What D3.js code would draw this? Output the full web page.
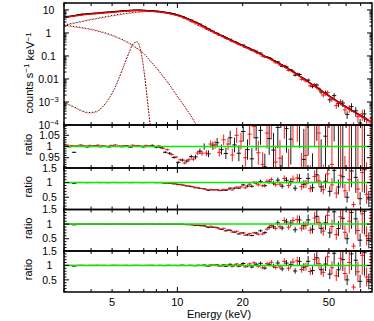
<!DOCTYPE html>
<html>
<head>
<meta charset="utf-8">
<script src="https://cdn.jsdelivr.net/npm/d3@7"></script>
<style>
  body { margin: 0; background: #fff; }
  svg { font-family: "Liberation Sans", Arial, sans-serif; }
</style>
</head>
<body>
<svg id="chart" width="374" height="321"></svg>
<script>
// bin centres (keV) for the two detectors
var energyA = [3.05, 3.19, 3.34, 3.50, 3.67, 3.84, 4.02, 4.21, 4.41, 4.62, 4.83, 5.06, 5.30, 5.55, 5.81, 6.08, 6.37, 6.67, 6.98, 7.31, 7.66, 8.02, 8.39, 8.79, 9.20, 9.64, 10.09, 10.57, 11.06, 11.58, 12.13, 12.70, 13.30, 13.92, 14.58, 15.26, 15.98, 16.74, 17.52, 18.35, 19.21, 20.12, 21.06, 22.06, 23.09, 24.18, 25.32, 26.51, 27.76, 29.06, 30.43, 31.86, 33.36, 34.93, 36.58, 38.30, 40.10, 41.99, 43.96, 46.03, 48.20, 50.47, 52.85, 55.33, 57.94, 60.67, 63.52, 66.51, 69.64, 72.92, 76.35]
var energyB = [3.12, 3.26, 3.42, 3.58, 3.75, 3.93, 4.11, 4.31, 4.51, 4.72, 4.94, 5.18, 5.42, 5.68, 5.94, 6.22, 6.52, 6.82, 7.14, 7.48, 7.84, 8.20, 8.58, 8.99, 9.41, 9.86, 10.32, 10.81, 11.31, 11.85, 12.41, 12.99, 13.61, 14.24, 14.92, 15.61, 16.35, 17.12, 17.92, 18.77, 19.65, 20.58, 21.54, 22.57, 23.62, 24.74, 25.90, 27.12, 28.40, 29.73, 31.13, 32.59, 34.13, 35.73, 37.42, 39.18, 41.02, 42.96, 44.97, 47.09, 49.31, 51.63, 54.07, 56.60, 59.27, 62.07, 64.98, 68.04, 71.24, 74.60, 78.11]

// folded model, counts s-1 keV-1
var modelA = [4.9, 5.3, 5.7, 6.1, 6.5, 6.8, 7.0, 7.2, 7.5, 7.8, 8.1, 8.4, 8.7, 9.0, 9.3, 9.6, 9.8, 9.8, 9.6, 9.4, 9.1, 8.8, 8.4, 7.9, 7.3, 6.7, 5.9, 5.1, 4.3, 3.6, 2.95, 2.4, 1.9, 1.5, 1.18, 0.95, 0.78, 0.63, 0.51, 0.42, 0.34, 0.28, 0.235, 0.19, 0.155, 0.125, 0.10, 0.081, 0.064, 0.051, 0.040, 0.031, 0.024, 0.018, 0.0137, 0.0104, 0.0078, 0.0058, 0.0043, 0.0032, 0.0024, 0.00178, 0.00133, 0.00100, 0.00075, 0.00058, 0.00045, 0.00035, 0.00027, 0.00021, 0.00016]
var modelB = [4.84, 5.22, 5.60, 5.98, 6.31, 6.55, 6.74, 6.98, 7.26, 7.55, 7.83, 8.12, 8.40, 8.69, 8.97, 9.21, 9.31, 9.21, 9.02, 8.79, 8.50, 8.17, 7.74, 7.21, 6.64, 5.97, 5.21, 4.45, 3.74, 3.10, 2.53, 2.03, 1.60, 1.26, 1.00, 0.818, 0.666, 0.538, 0.440, 0.359, 0.293, 0.244, 0.201, 0.163, 0.132, 0.106, 0.0855, 0.0684, 0.0543, 0.0429, 0.0334, 0.0259, 0.0197, 0.0149, 0.0113, 0.00855, 0.00639, 0.00474, 0.00352, 0.00263, 0.00196, 0.00146, 0.00109, 0.000823, 0.000627, 0.000485, 0.000377, 0.000292, 0.000226, 0.000174, 0.000133]

// fractional 1-sigma errors per bin
var relErr = [0.003, 0.003, 0.003, 0.003, 0.003, 0.003, 0.003, 0.003, 0.003, 0.003, 0.003, 0.003, 0.003, 0.003, 0.003, 0.003, 0.003, 0.003, 0.003, 0.003, 0.004, 0.004, 0.004, 0.005, 0.005, 0.006, 0.006, 0.007, 0.008, 0.009, 0.010, 0.012, 0.014, 0.016, 0.018, 0.020, 0.023, 0.026, 0.030, 0.033, 0.037, 0.042, 0.046, 0.050, 0.055, 0.060, 0.065, 0.071, 0.078, 0.085, 0.093, 0.10, 0.11, 0.12, 0.13, 0.145, 0.16, 0.175, 0.19, 0.21, 0.23, 0.25, 0.28, 0.30, 0.33, 0.36, 0.40, 0.45, 0.50, 0.55, 0.62]

// data / best-fit model (bottom panel)
var ratioA = [1.002, 0.999, 0.974, 1.001, 1.002, 0.998, 1.001, 1.003, 0.999, 1.001, 0.998, 1.002, 1.000, 0.999, 1.003, 0.997, 1.001, 1.002, 0.998, 1.001, 1.005, 0.997, 1.002, 0.994, 1.004, 1.001, 0.995, 1.010, 0.998, 1.005, 0.990, 1.004, 1.015, 0.976, 1.007, 1.018, 0.986, 0.969, 1.039, 1.007, 0.970, 1.067, 0.986, 0.945, 1.039, 1.072, 0.909, 1.036, 0.984, 1.085, 0.879, 1.080, 1.033, 0.808, 1.143, 0.942, 1.144, 0.825, 1.266, 0.853, 1.046, 0.70, 1.42, 0.85, 1.20, 0.50, 1.40, 1.18, 0.45, 1.44, 0.44]
var ratioB = [1.006, 1.004, 1.003, 1.007, 1.002, 1.005, 1.003, 1.006, 1.004, 1.001, 1.005, 1.007, 1.003, 1.004, 1.002, 1.006, 1.004, 1.001, 1.005, 1.003, 1.000, 1.004, 0.999, 1.006, 0.998, 1.003, 1.007, 0.996, 1.004, 0.993, 1.008, 0.995, 0.985, 1.020, 1.012, 0.975, 1.030, 1.011, 0.962, 1.050, 1.024, 0.950, 1.055, 1.090, 0.972, 0.920, 1.060, 1.110, 0.930, 0.948, 1.140, 0.900, 1.120, 1.160, 0.860, 0.960, 0.790, 1.210, 1.060, 0.760, 1.300, 0.920, 0.640, 1.250, 0.720, 1.100, 0.250, 0.780, 1.350, 0.600, 1.200]

// best-fit model / alternative model, per bin
var dipNoCyc = [1, 1, 1, 1, 1, 1, 1, 1, 1, 1, 1, 1, 1, 1, 1, 1, 1, 1, 1, 1, 1, 0.999, 0.993, 0.980, 0.966, 0.950, 0.934, 0.930, 0.937, 0.950, 0.963, 0.975, 0.985, 0.991, 0.996, 0.999, 1, 1, 1, 1, 1, 1, 1, 1, 1, 1, 1, 1, 1, 1, 1, 1, 1, 1, 1, 1, 1, 1, 1, 1, 1, 1, 1, 1, 1, 1, 1, 1, 1, 1, 1]
var dipCyc1 = [1, 1, 1, 1, 1, 1, 1, 1, 1, 1, 1, 1, 1, 1, 1, 1, 1, 1, 1, 1, 1, 1, 0.995, 0.985, 0.97, 0.955, 0.935, 0.91, 0.885, 0.86, 0.83, 0.80, 0.775, 0.755, 0.745, 0.742, 0.748, 0.76, 0.78, 0.805, 0.835, 0.865, 0.895, 0.925, 0.95, 0.97, 0.985, 0.995, 1, 1, 1, 1, 1, 1, 1, 1, 1, 1, 1, 1, 1, 1, 1, 1, 1, 1, 1, 1, 1, 1, 1]
var dipCyc2 = [1, 1, 1, 1, 1, 1, 1, 1, 1, 1, 1, 1, 1, 1, 1, 1, 1, 1, 1, 1, 1, 1, 1, 1, 1, 0.998, 0.995, 0.99, 0.982, 0.972, 0.96, 0.945, 0.93, 0.91, 0.885, 0.86, 0.83, 0.795, 0.76, 0.72, 0.685, 0.655, 0.64, 0.645, 0.67, 0.72, 0.78, 0.86, 0.92, 0.96, 0.985, 0.995, 1, 1, 1, 1, 1, 1, 1, 1, 1, 1, 1, 1, 1, 1, 1, 1, 1, 1, 1]

// model components (FPMA)
var softEnergy = [3.0, 3.5, 4.0, 4.5, 5.0, 5.5, 6.0, 6.5, 7.0, 7.5, 8.0, 8.5, 9.0, 9.5, 10, 10.5, 11, 11.5, 12, 12.5]
var softComp = [2.2, 1.8, 1.45, 1.1, 0.8, 0.55, 0.36, 0.22, 0.13, 0.062, 0.031, 0.015, 0.0075, 0.0037, 0.0018, 0.00095, 0.0005, 0.00027, 0.00014, 0.00007]
var contEnergy = [3.0, 3.5, 4.0, 4.5, 5.0, 5.5, 6.0, 6.5, 7.0, 7.5, 8.0, 8.5, 9.0, 10, 11, 12, 14, 17, 20, 25, 30, 40, 50, 60, 70, 79]
var contComp = [2.2, 3.0, 3.9, 4.8, 5.7, 6.6, 7.4, 8.1, 8.6, 8.8, 8.7, 8.3, 7.8, 6.0, 4.0, 2.6, 1.3, 0.55, 0.27, 0.1, 0.047, 0.0075, 0.0018, 0.00058, 0.00024, 0.00011]
var lineEnergy = [3.0, 3.3, 3.6, 3.9, 4.2, 4.5, 4.8, 5.1, 5.4, 5.7, 6.0, 6.2, 6.35, 6.45, 6.6, 6.75, 6.9, 7.05, 7.2, 7.35, 7.5]
var lineComp = [0.00095, 0.00065, 0.00043, 0.00035, 0.00038, 0.0006, 0.0013, 0.0035, 0.012, 0.045, 0.15, 0.3, 0.39, 0.42, 0.37, 0.2, 0.066, 0.016, 0.003, 0.0005, 0.0001]
var crossNorm = 0.95

var countTicks = [10, 1, 0.1, 0.01, 0.001, 0.0001]
var energyTicks = [5, 10, 20, 50]

;(function () {
  var left = 64; var right = 372
  var svg = d3.select('#chart')
  var green = '#00ee00'

  var x = d3.scaleLog().domain([3, 79]).range([left, right])

  var panels = [
    { top: 3, bottom: 125 },
    { top: 125, bottom: 168, domain: [0.904, 1.096], dip: dipNoCyc, major: [0.95, 1, 1.05], minor: d3.range(91, 110).map(d => d / 100) },
    { top: 168, bottom: 209.5, domain: [0.08, 1.5], dip: dipCyc1, major: [0.5, 1, 1.5], minor: d3.range(1, 15).map(d => d / 10) },
    { top: 209.5, bottom: 251, domain: [0.08, 1.5], dip: dipCyc2, major: [0.5, 1, 1.5], minor: d3.range(1, 15).map(d => d / 10) },
    { top: 251, bottom: 292, domain: [0.08, 1.5], dip: null, major: [0.5, 1, 1.5], minor: d3.range(1, 15).map(d => d / 10) }
  ]

  var defs = svg.append('defs')
  panels.forEach((p, k) => {
    defs.append('clipPath').attr('id', 'clip' + k)
      .append('rect')
      .attr('x', left).attr('y', p.top)
      .attr('width', right - left).attr('height', p.bottom - p.top)
  })

  function edges (en) {
    return en.map((e, i) => {
      var lo = i === 0 ? e / Math.sqrt(en[1] / e) : Math.sqrt(en[i - 1] * e)
      var hi = i === en.length - 1 ? e * Math.sqrt(e / en[i - 1]) : Math.sqrt(en[i + 1] * e)
      return [lo, hi]
    })
  }
  var edgesA = edges(energyA)
  var edgesB = edges(energyB)

  function drawPoints (g, pts, color) {
    var s = g.append('g').attr('stroke', color).attr('stroke-width', 0.9)
    s.selectAll('.h').data(pts).enter().append('line')
      .attr('x1', d => x(d.lo)).attr('x2', d => x(d.hi))
      .attr('y1', d => d.y).attr('y2', d => d.y)
    s.selectAll('.v').data(pts).enter().append('line')
      .attr('x1', d => x(d.e)).attr('x2', d => x(d.e))
      .attr('y1', d => d.y1).attr('y2', d => d.y2)
  }

  // ---- top panel: counts spectrum
  var p0 = panels[0]
  var y0 = d3.scaleLog().domain([1e-4, 20]).range([p0.bottom, p0.top])
  var g0 = svg.append('g').attr('clip-path', 'url(#clip0)')

  var line = d3.line().curve(d3.curveMonotoneX)
    .x(d => x(d[0])).y(d => y0(Math.max(d[1], 1e-6)))

  function drawComps (color, norm, offset) {
    var comps = [[softEnergy, softComp], [contEnergy, contComp], [lineEnergy, lineComp]]
    comps.forEach(c => {
      g0.append('path')
        .datum(c[0].map((e, i) => [e, c[1][i] * norm]))
        .attr('d', line)
        .attr('fill', 'none')
        .attr('stroke', color)
        .attr('stroke-width', 1)
        .attr('stroke-dasharray', '1,2')
        .attr('stroke-dashoffset', offset)
    })
  }
  drawComps('#000', 1, 0)
  drawComps('#ff0000', crossNorm, 1.5)

  function countPts (en, ed, model, ratio) {
    return en.map((e, i) => {
      var v = model[i] * ratio[i]
      var err = v * relErr[i]
      return { e: e, lo: ed[i][0], hi: ed[i][1], y: y0(v), y1: y0(Math.max(v - err, 1e-6)), y2: y0(v + err) }
    })
  }
  drawPoints(g0, countPts(energyA, edgesA, modelA, ratioA), '#000')
  drawPoints(g0, countPts(energyB, edgesB, modelB, ratioB), '#ff0000')

  g0.append('path').datum(energyA.map((e, i) => [e, modelA[i]]))
    .attr('d', line).attr('fill', 'none').attr('stroke', '#000').attr('stroke-width', 1.3)
  g0.append('path').datum(energyB.map((e, i) => [e, modelB[i]]))
    .attr('d', line).attr('fill', 'none').attr('stroke', '#ff0000').attr('stroke-width', 1.3)

  // ---- ratio panels
  panels.slice(1).forEach((p, k) => {
    var y = d3.scaleLinear().domain(p.domain).range([p.bottom, p.top])
    p.y = y
    var g = svg.append('g').attr('clip-path', 'url(#clip' + (k + 1) + ')')
    function ratioPts (en, ed, ratio) {
      return en.map((e, i) => {
        var r = ratio[i] * (p.dip ? p.dip[i] : 1)
        var err = r * relErr[i]
        return { e: e, lo: ed[i][0], hi: ed[i][1], y: y(r), y1: y(r - err), y2: y(r + err) }
      })
    }
    drawPoints(g, ratioPts(energyA, edgesA, ratioA), '#000')
    drawPoints(g, ratioPts(energyB, edgesB, ratioB), '#ff0000')
    g.append('line')
      .attr('x1', left).attr('x2', right)
      .attr('y1', y(1)).attr('y2', y(1))
      .attr('stroke', green).attr('stroke-width', 1.5)
  })

  // ---- axes, ticks, frames
  var axes = svg.append('g').attr('stroke', '#000')
  var xMinor = [3, 4, 5, 6, 7, 8, 9, 10, 20, 30, 40, 50, 60, 70]

  panels.forEach((p, k) => {
    xMinor.forEach(e => {
      var len = e === 10 ? 5 : 3
      axes.append('line').attr('x1', x(e)).attr('x2', x(e))
        .attr('y1', p.bottom).attr('y2', p.bottom - len).attr('stroke-width', 1)
      axes.append('line').attr('x1', x(e)).attr('x2', x(e))
        .attr('y1', p.top).attr('y2', p.top + len).attr('stroke-width', 1)
    })

    var yTicks = []
    if (k === 0) {
      countTicks.forEach(v => yTicks.push({ y: y0(v), len: 5 }))
      countTicks.forEach(v => {
        d3.range(2, 10).forEach(m => {
          if (v * m <= 20) yTicks.push({ y: y0(v * m), len: 2.5 })
        })
      })
    } else {
      p.minor.forEach(v => yTicks.push({ y: p.y(v), len: p.major.some(m => Math.abs(m - v) < 1e-6) ? 5 : 2.5 }))
    }
    yTicks.forEach(t => {
      axes.append('line').attr('x1', left).attr('x2', left + t.len)
        .attr('y1', t.y).attr('y2', t.y).attr('stroke-width', 1)
      axes.append('line').attr('x1', right).attr('x2', right - t.len)
        .attr('y1', t.y).attr('y2', t.y).attr('stroke-width', 1)
    })

    axes.append('rect')
      .attr('x', left).attr('y', p.top)
      .attr('width', right - left).attr('height', p.bottom - p.top)
      .attr('fill', 'none').attr('stroke-width', 1.5)
  })

  // ---- labels
  var labels = svg.append('g').attr('font-size', 11).attr('fill', '#000')

  countTicks.forEach(v => {
    var t = labels.append('text')
      .attr('x', 48.5).attr('y', y0(v)).attr('dy', '0.35em')
      .attr('text-anchor', 'middle').attr('font-size', 10.5)
    if (v >= 0.01) {
      t.text(String(v))
    } else {
      t.text('10')
      t.append('tspan').attr('dy', '-0.45em').attr('font-size', 7.5)
        .text('\u2212' + Math.round(-Math.log10(v)))
    }
  })

  panels.slice(1).forEach(p => {
    p.major.forEach(v => {
      labels.append('text')
        .attr('x', 49.5).attr('y', p.y(v)).attr('dy', '0.35em')
        .attr('text-anchor', 'middle').attr('font-size', 10.5)
        .text(String(v))
    })
    labels.append('text')
      .attr('transform', 'translate(32,' + ((p.top + p.bottom) / 2 - 2) + ') rotate(-90)')
      .attr('text-anchor', 'middle')
      .text('ratio')
  })

  var yl = labels.append('text')
    .attr('transform', 'translate(33,73) rotate(-90)')
    .attr('text-anchor', 'middle')
  yl.append('tspan').text('counts s')
  yl.append('tspan').attr('dy', '-0.45em').attr('font-size', 8).text('\u22121')
  yl.append('tspan').attr('dy', '0.45em').text(' keV')
  yl.append('tspan').attr('dy', '-0.45em').attr('font-size', 8).text('\u22121')

  energyTicks.forEach(e => {
    labels.append('text')
      .attr('x', x(e)).attr('y', 305.5)
      .attr('text-anchor', 'middle')
      .text(String(e))
  })

  labels.append('text')
    .attr('x', 219).attr('y', 318)
    .attr('text-anchor', 'middle')
    .text('Energy (keV)')
})()
</script>
</body>
</html>
